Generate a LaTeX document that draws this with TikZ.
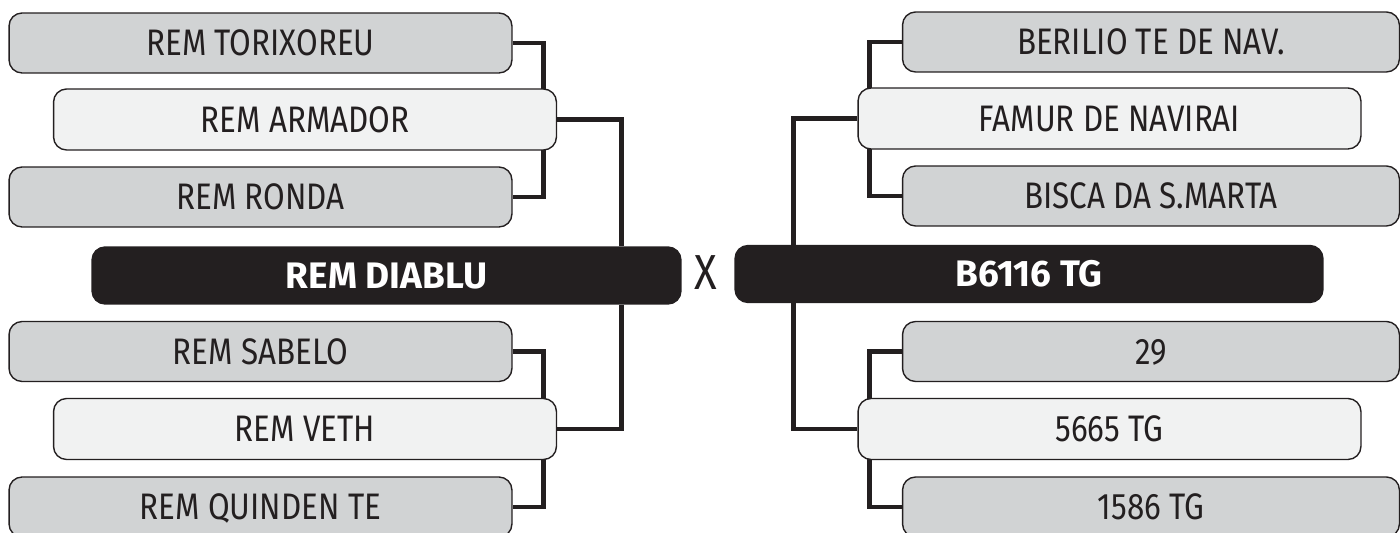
\documentclass[tikz,border=0pt]{standalone}
\usepackage{fontspec}
\setmainfont{Fira Sans}[FakeStretch=0.85, BoldFeatures={FakeStretch=1.0}]
\usetikzlibrary{backgrounds}
\definecolor{slotgray}{RGB}{209,211,212}
\definecolor{slotlight}{RGB}{241,242,242}
\definecolor{slotdark}{RGB}{35,31,32}

\begin{document}
\begin{tikzpicture}[x=0.02cm, y=-0.02cm,
  team/.style={draw=slotdark, line width=0.8pt, rounded corners=0.26cm, fill=slotgray,
    minimum width=10.06cm, minimum height=1.2cm, inner sep=0pt, text=slotdark,
    font=\fontsize{21}{24}\selectfont, text height=0.51cm, text depth=0pt},
  mid/.style={team, fill=slotlight, minimum height=1.22cm},
  final/.style={team, fill=slotdark, text=white, font=\fontsize{21}{25}\selectfont\bfseries,
    text height=0.51cm, minimum width=11.78cm, minimum height=1.14cm},
  link/.style={draw=slotdark, line width=2.8pt}]
\useasboundingbox (0,0) rectangle (1400,533);

% Left bracket
\node[team] (tor) at (260.5,43) {REM TORIXOREU};
\node[mid] (arm) at (305,119.5) {REM ARMADOR};
\node[team] (ron) at (260.5,197) {REM RONDA};
\node[final] (dia) at (386.5,275.5) {REM DIABLU};
\node[team] (sab) at (260.5,351.5) {REM SABELO};
\node[mid] (vet) at (305,429) {REM VETH};
\node[team] (qui) at (260.5,507) {REM QUINDEN TE};

% Right bracket
\node[team, minimum width=9.94cm] (ber) at (1151,42) {BERILIO TE DE NAV.};
\node[mid] (fam) at (1109.5,118.5) {FAMUR DE NAVIRAI};
\node[team, minimum width=9.94cm] (bis) at (1151,196) {BISCA DA S.MARTA};
\node[final, minimum width=11.76cm] (bsx) at (1029,274) {B6116 TG};
\node[team, minimum width=9.94cm] (n29) at (1151,351.5) {29};
\node[mid] (n5665) at (1109.5,429) {5665 TG};
\node[team, minimum width=9.94cm] (n1586) at (1151,507) {1586 TG};

% Versus
\node[text=slotdark, font=\fontsize{28}{32}\selectfont] (vs) at (706,273) {X};

% Links
\begin{scope}[on background layer]
\draw[link] (tor.east) -- ++(31,0) |- (ron.east);
\draw[link] (arm.east) -- ++(64,0) coordinate (lj) -- (lj |- dia.north);
\draw[link] (dia.south -| lj) -- (lj |- vet.east) -- (vet.east);
\draw[link] (sab.east) -- ++(31,0) |- (qui.east);

\draw[link] (ber.west) -- ++(-32,0) |- (bis.west);
\draw[link] (fam.west) -- ++(-64,0) coordinate (rj) -- (rj |- bsx.north);
\draw[link] (bsx.south -| rj) -- (rj |- n5665.west) -- (n5665.west);
\draw[link] (n29.west) -- ++(-32,0) |- (n1586.west);
\end{scope}
\end{tikzpicture}
\end{document}
